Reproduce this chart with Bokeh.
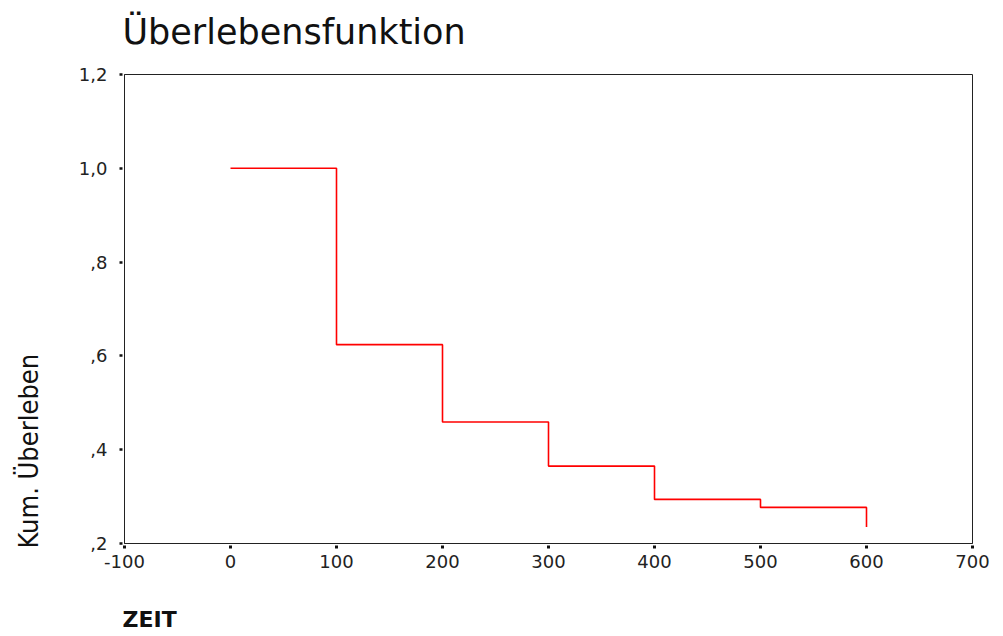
from bokeh.plotting import figure
from bokeh.models import Range1d, Title, FixedTicker, CustomJSTickFormatter
from bokeh.embed import file_html
from bokeh.resources import INLINE

# Data
zeit = [0, 100, 200, 300, 400, 500, 600]
ueberleben = [1.0, 0.624, 0.459, 0.365, 0.294, 0.277, 0.235]
x_ticks = [-100, 0, 100, 200, 300, 400, 500, 600, 700]
y_ticks = [0.2, 0.4, 0.6, 0.8, 1.0, 1.2]

p = figure(width=1003, height=636,
           x_range=Range1d(-100, 700), y_range=Range1d(0.2, 1.2),
           output_backend="svg", toolbar_location=None,
           min_border_left=124, min_border_right=31,
           min_border_top=74, min_border_bottom=93)

p.step(zeit, ueberleben, mode="after", line_color="#ff0000", line_width=1.6)

p.xgrid.visible = False
p.ygrid.visible = False
p.outline_line_color = "#222222"
p.outline_line_width = 1
p.background_fill_color = "white"
p.border_fill_color = "white"

LABEL_FONT = "DejaVu Sans"

for ax in (p.xaxis[0], p.yaxis[0]):
    ax.axis_line_color = "#222222"
    ax.axis_line_width = 1
    ax.major_tick_line_color = "#111111"
    ax.major_tick_line_width = 3
    ax.major_tick_in = -2
    ax.major_tick_out = 5
    ax.minor_tick_line_color = None
    ax.major_label_text_font = LABEL_FONT
    ax.major_label_text_font_size = "18px"
    ax.major_label_text_color = "#222222"

p.xaxis[0].ticker = FixedTicker(ticks=x_ticks)
p.xaxis[0].major_label_standoff = 6
p.xaxis[0].formatter = CustomJSTickFormatter(code="return String(Math.round(tick));")
p.yaxis[0].ticker = FixedTicker(ticks=y_ticks)
p.yaxis[0].major_label_standoff = 12
p.yaxis[0].major_tick_line_width = 2.5
p.yaxis[0].formatter = CustomJSTickFormatter(code="""
    var s = tick.toFixed(1).replace('.', ',');
    if (s.charAt(0) === '0') { s = s.substring(1); }
    return s;
""")

# spacing helpers (blank titles) between frame and the text titles
def spacer(standoff):
    return Title(text=" ", text_font_size="8px", standoff=standoff)

# Main title (outermost in the top panel)
p.title.text = "Überlebensfunktion"
p.title.align = "left"
p.title.offset = -2
p.title.text_font = "DejaVu Sans"
p.title.text_font_size = "35px"
p.title.text_font_style = "normal"
p.title.text_color = "#111111"
p.title.standoff = 14
p.add_layout(spacer(5), "above")

# y axis title, bottom aligned
p.add_layout(spacer(11), "left")
ylab = Title(text="Kum. Überleben", align="left", offset=-5,
             text_font="'Liberation Sans Narrow', 'DejaVu Sans Condensed', 'Liberation Sans', sans-serif",
             text_font_size="27px", text_font_style="normal",
             text_color="#111111", standoff=20)
p.add_layout(ylab, "left")

# x axis title, left aligned
p.add_layout(spacer(21), "below")
xlab = Title(text="ZEIT", align="left", offset=-2, text_font="DejaVu Sans",
             text_font_size="22px", text_font_style="bold",
             text_color="#111111", standoff=4)
p.add_layout(xlab, "below")

open("out.html", "w").write(file_html(p, INLINE))
